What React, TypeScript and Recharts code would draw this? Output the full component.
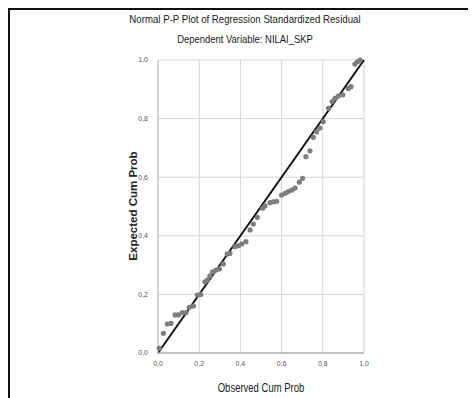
import React from 'react';
import {
    ScatterChart, Scatter, XAxis, YAxis, CartesianGrid, ReferenceLine,
} from 'recharts';

// observed vs expected cumulative probabilities
const observed = [
    0.006, 0.026, 0.045, 0.063, 0.083, 0.099, 0.118, 0.136, 0.152, 0.172,
    0.191, 0.207, 0.228, 0.239, 0.252, 0.265, 0.282, 0.298, 0.317, 0.336,
    0.349, 0.374, 0.39, 0.406, 0.427, 0.447, 0.463, 0.482, 0.508, 0.519,
    0.544, 0.56, 0.576, 0.6, 0.617, 0.632, 0.649, 0.665, 0.686, 0.702,
    0.718, 0.738, 0.754, 0.77, 0.786, 0.802, 0.828, 0.845, 0.859, 0.875,
    0.897, 0.924, 0.937, 0.956, 0.968, 0.981,
];
const expected = [
    0.016, 0.067, 0.099, 0.101, 0.13, 0.13, 0.138, 0.138, 0.156, 0.16,
    0.198, 0.2, 0.243, 0.249, 0.263, 0.277, 0.283, 0.287, 0.304, 0.338,
    0.34, 0.363, 0.366, 0.372, 0.38, 0.42, 0.44, 0.463, 0.494, 0.502,
    0.513, 0.516, 0.518, 0.539, 0.545, 0.551, 0.556, 0.563, 0.583, 0.596,
    0.67, 0.69, 0.736, 0.755, 0.768, 0.79, 0.835, 0.858, 0.869, 0.877,
    0.881, 0.903, 0.909, 0.986, 0.994, 1.0,
];
const ticks = [0, 0.2, 0.4, 0.6, 0.8, 1.0];
const diagonal = [{ x: 0, y: 0 }, { x: 1, y: 1 }];

const title = 'Normal P-P Plot of Regression Standardized Residual';
const subtitle = 'Dependent Variable: NILAI_SKP';
const xLabel = 'Observed Cum Prob';
const yLabel = 'Expected Cum Prob';

const sans = "'Liberation Sans', Arial, sans-serif";

const fmt = (v: number) => v.toFixed(1).replace('.', ',');

// SPSS draws small solid grey dots
const Dot = (props: any) => (
    <circle cx={props.cx} cy={props.cy} r={2.6} fill="#7d7d7d" />
);

// narrow-looking centred caption (no condensed font installed, so squeeze it)
function Caption({ text, cx, top, size, squeeze, bold }: {
    text: string; cx: number; top: number; size: number; squeeze: number; bold?: boolean;
}) {
    return (
        <div style={{
            position: 'absolute', left: cx - 200, width: 400, top, textAlign: 'center',
            fontFamily: sans, fontSize: size, color: '#1a1a1a', whiteSpace: 'nowrap',
            fontWeight: bold ? 'bold' : 'normal',
            transform: `scaleX(${squeeze})`,
        }}>{text}</div>
    );
}

export default function App() {
    const data = observed.map((x, i) => ({ x, y: expected[i] }));
    const tickStyle = { fill: '#555', fontSize: 7, fontFamily: sans };

    return (
        <div style={{
            position: 'relative', width: 466, height: 388,
            borderTop: '2px solid #111', borderLeft: '2px solid #111',
            background: '#fff',
        }}>
            <Caption text={title} cx={235} top={3} size={11.5} squeeze={0.84} />
            <Caption text={subtitle} cx={235} top={23} size={11.5} squeeze={0.82} />
            <Caption text={xLabel} cx={251} top={371} size={12.5} squeeze={0.76} />
            <div style={{
                position: 'absolute', left: 123 - 100, top: 196 - 8, width: 200, height: 16,
                textAlign: 'center', transform: 'rotate(-90deg)',
                fontFamily: sans, fontWeight: 'bold',
                fontSize: 11.5, lineHeight: '16px', color: '#222',
            }}>{yLabel}</div>
            <ScatterChart
                width={466}
                height={388}
                margin={{ top: 50, right: 112, bottom: 0, left: 0 }}
            >
                <CartesianGrid stroke="#d4d4d4" strokeWidth={1} />
                <XAxis
                    type="number"
                    dataKey="x"
                    domain={[0, 1]}
                    ticks={ticks}
                    tickFormatter={fmt}
                    tick={tickStyle}
                    tickLine={false}
                    axisLine={{ stroke: '#999' }}
                    height={45}
                    tickMargin={2}
                />
                <YAxis
                    type="number"
                    dataKey="y"
                    domain={[0, 1]}
                    ticks={ticks}
                    tickFormatter={fmt}
                    tick={tickStyle}
                    tickLine={false}
                    axisLine={{ stroke: '#bbb' }}
                    width={148}
                    tickMargin={4}
                />
                <Scatter
                    data={data}
                    shape={Dot}
                    isAnimationActive={false}
                />
                <ReferenceLine segment={diagonal} stroke="#111" strokeWidth={2} ifOverflow="visible" />
            </ScatterChart>
        </div>
    );
}
